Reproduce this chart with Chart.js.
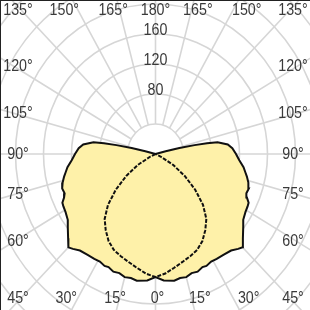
<!DOCTYPE html>
<html>
<head>
<meta charset="utf-8">
<script src="https://cdn.jsdelivr.net/npm/chart.js@4/dist/chart.umd.min.js"></script>
<style>
  html, body { margin: 0; padding: 0; background: #fff; }
  #wrap { width: 310px; height: 310px; }
</style>
</head>
<body>
<div id="wrap"><canvas id="polar" width="310" height="310"></canvas></div>
<script>
// C0-C180 plane (solid), angles in degrees from nadir, values in cd/klm
const c0Angles = [0, 4, 9, 12, 15, 18, 21, 24, 26, 29, 32, 36, 40, 43, 45, 48, 52, 55, 59, 62, 64, 66, 68, 71, 74, 77, 79, 82, 86, 90, 94, 97, 100, 101, 102, 103, 104, 105];
const c0Values = [164, 169, 171, 169, 170, 167, 168, 165, 166, 164, 165, 166, 168, 173, 176, 168, 159, 153, 150, 149, 148, 143, 140, 141, 138, 134, 131, 127, 120, 115, 110, 104, 90, 75, 57, 35, 15, 0];

// C90-C270 plane (dashed)
const c90Angles = [0, 5, 10, 15, 20, 25, 30, 35, 40, 45, 50, 55, 60, 65, 68];
const c90Values = [164, 160, 154, 149, 145, 141, 134, 124, 113, 96, 74, 51, 29, 8, 0];

// polar grid
const ringValues = [40, 80, 120, 160, 200, 240, 280, 320];
const ringLabels = [80, 120, 160];
const angleTicks = [0, 15, 30, 45, 60, 75, 90, 105, 120, 135, 150, 165, 180];

const FONT = '17px "Liberation Sans", "DejaVu Sans", sans-serif';
const GRID = '#d6d6d6';
const TEXT = '#3a3a3a';

// both halves of one plane, left half mirrored, as x/y points
function planePoints(angles, values) {
  const pts = [];
  for (let i = angles.length - 1; i >= 0; i--) {
    const a = angles[i] * Math.PI / 180;
    pts.push({ x: -values[i] * Math.sin(a), y: -values[i] * Math.cos(a) });
  }
  for (let i = 1; i < angles.length; i++) {
    const a = angles[i] * Math.PI / 180;
    pts.push({ x: values[i] * Math.sin(a), y: -values[i] * Math.cos(a) });
  }
  return pts;
}

// narrow text, the original uses a condensed face
function narrowText(ctx, text, px, py) {
  ctx.save();
  ctx.translate(px, py);
  ctx.scale(0.84, 1);
  ctx.fillText(text, 0, 0);
  ctx.restore();
}

const polarGrid = {
  id: 'polarGrid',
  beforeDatasetsDraw(chart) {
    const { ctx, scales: { x, y } } = chart;
    const cx = x.getPixelForValue(0);
    const cy = y.getPixelForValue(0);
    ctx.save();
    ctx.strokeStyle = GRID;
    ctx.lineWidth = 1.6;
    ringValues.forEach(r => {
      const rx = x.getPixelForValue(r) - cx;
      const ry = cy - y.getPixelForValue(r);
      ctx.beginPath();
      ctx.ellipse(cx, cy, rx, ry, 0, 0, Math.PI * 2);
      ctx.stroke();
    });
    for (let a = 0; a < 360; a += 15) {
      const t = a * Math.PI / 180;
      const r0 = ringValues[0], r1 = 500;
      ctx.beginPath();
      ctx.moveTo(x.getPixelForValue(r0 * Math.sin(t)), y.getPixelForValue(-r0 * Math.cos(t)));
      ctx.lineTo(x.getPixelForValue(r1 * Math.sin(t)), y.getPixelForValue(-r1 * Math.cos(t)));
      ctx.stroke();
    }
    ctx.restore();
  },
  afterDatasetsDraw(chart) {
    const { ctx, scales: { x, y }, width, height } = chart;
    const cx = x.getPixelForValue(0);
    const cy = y.getPixelForValue(0);
    ctx.save();
    ctx.font = FONT;
    ctx.fillStyle = TEXT;
    ctx.textAlign = 'center';
    ctx.textBaseline = 'middle';

    ringLabels.forEach(r => {
      narrowText(ctx, String(r), cx, y.getPixelForValue(r) - 4);
    });

    const left = 18, right = width - 17, top = 10, bottom = height - 12;
    const kx = 158, ky = 152;
    angleTicks.forEach(a => {
      const sides = (a === 0 || a === 180) ? [0] : [-1, 1];
      sides.forEach(s => {
        let px, py;
        if (a < 45) {
          px = cx + 2 + s * kx * Math.tan(a * Math.PI / 180);
          py = bottom;
        } else if (a > 135) {
          px = cx + s * kx * Math.tan((180 - a) * Math.PI / 180);
          py = top;
        } else {
          px = s < 0 ? left : right;
          py = cy + ky * Math.tan((90 - a) * Math.PI / 180);
        }
        px = Math.min(Math.max(px, left), right);
        py = Math.min(Math.max(py, top), bottom);
        narrowText(ctx, a + '°', px, py);
      });
    });

    ctx.fillStyle = '#222';
    ctx.fillRect(0, 0, width, 1);
    ctx.fillRect(0, 0, 1, height);
    ctx.restore();
  }
};

new Chart(document.getElementById('polar'), {
  type: 'scatter',
  data: {
    datasets: [
      {
        label: 'C90 - C270',
        data: planePoints(c90Angles, c90Values),
        showLine: true,
        borderColor: '#111',
        borderWidth: 2,
        borderDash: [4, 1.5],
        pointRadius: 0,
        fill: false,
        tension: 0
      },
      {
        label: 'C0 - C180',
        data: planePoints(c0Angles, c0Values),
        showLine: true,
        borderColor: '#111',
        borderWidth: 2,
        backgroundColor: '#fef1a9',
        pointRadius: 0,
        fill: 'shape',
        tension: 0
      }
    ]
  },
  options: {
    responsive: false,
    animation: false,
    layout: { padding: 0 },
    scales: {
      x: { type: 'linear', min: -155.5 / 0.7, max: 154.5 / 0.7, display: false },
      y: { type: 'linear', min: -156 / 0.75, max: 154 / 0.75, display: false }
    },
    plugins: {
      legend: { display: false },
      tooltip: { enabled: false }
    }
  },
  plugins: [polarGrid]
});
</script>
</body>
</html>
